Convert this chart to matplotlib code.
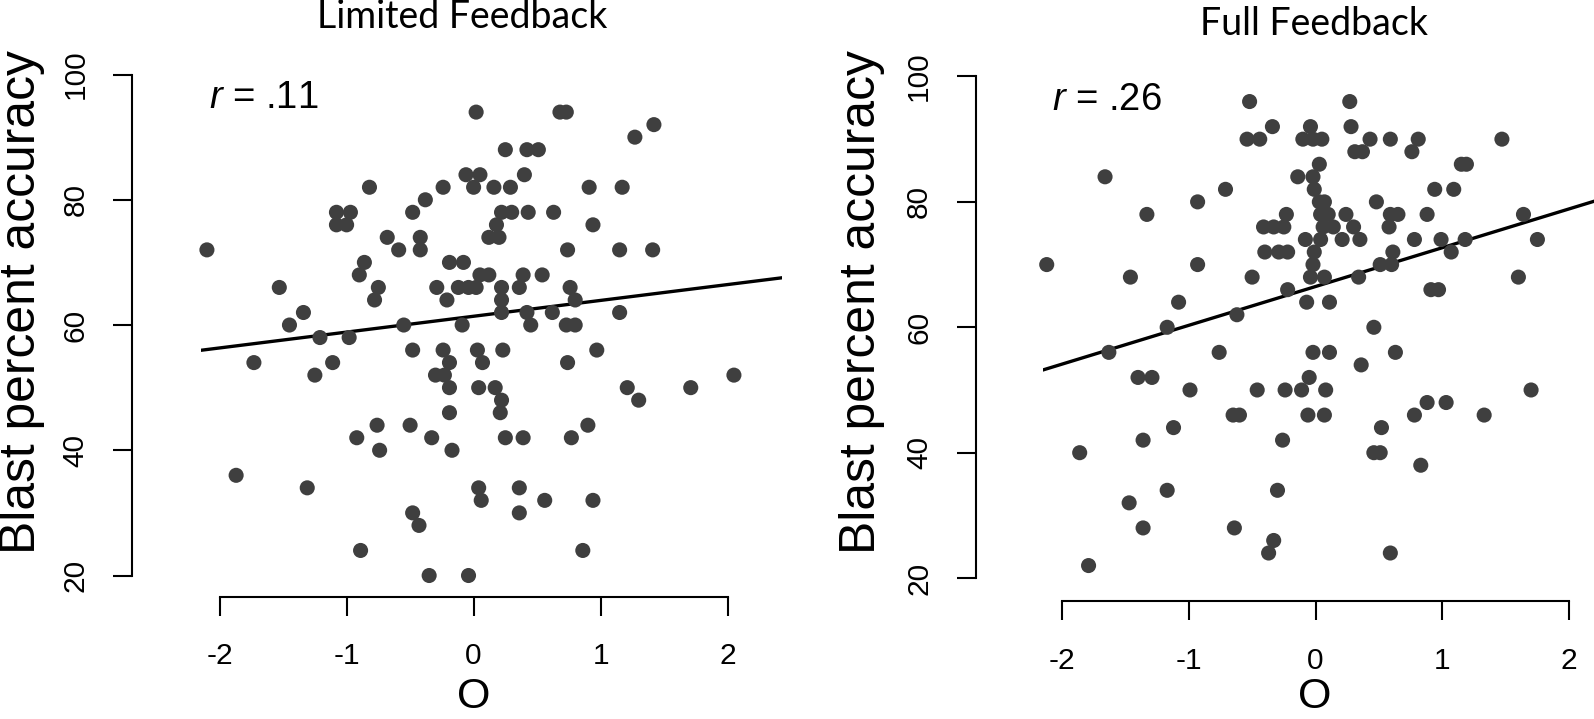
import matplotlib
matplotlib.use("Agg")
import matplotlib.pyplot as plt

plt.rcParams['font.family'] = ['Liberation Sans', 'DejaVu Sans']
plt.rcParams['mathtext.fontset'] = 'custom'
plt.rcParams['mathtext.it'] = 'Liberation Sans:italic'
plt.rcParams['mathtext.rm'] = 'Liberation Sans'

# Limited feedback panel (O score vs blast accuracy)
lim_x = [-2.10, -0.82, -1.08, -0.97, -1.08, -1.00, -0.24, -0.38, -0.48, -0.68, -0.59, -0.42, -0.42,
         -0.86, -0.90, -0.75, -0.78, -1.53, -1.34, -1.45, -0.19, -0.08, -0.29, -0.21, -0.55,
         0.02, 0.68, 0.73, 1.42, 1.27, 0.25, 0.42, 0.51, -0.06, 0.05, 0.40, 0.00, 0.16, 0.29, 0.91,
         1.17, 0.22, 0.30, 0.43, 0.63, 0.18, 0.94, 0.12, 0.20, 0.74, 1.15, 1.41, 0.05, 0.12, 0.39,
         0.54, -0.12, -0.04, 0.02, 0.22, 0.36, 0.76, 0.22, 0.80, 0.22, 0.42, 0.62, 1.15, -0.09, 0.45,
         0.73, 0.80,
         -1.21, -0.98, -1.73, -1.11, -1.25, -0.48, -0.24, -0.19, -0.30, -0.23, -0.19, -0.19, -0.76,
         -0.50, -0.92, -0.74, -0.33, -0.17, -1.87, -1.31, -0.48, -0.43, -0.89, -0.35,
         0.03, 0.23, 0.97, 0.07, 0.74, 0.04, 0.17, 0.22, 0.21, 1.21, 1.30, 1.71, 2.05, 0.90, 0.25,
         0.39, 0.77, 0.04, 0.06, 0.36, 0.36, 0.56, 0.94, 0.86, -0.04]
lim_y = [72, 82, 78, 78, 76, 76, 82, 80, 78, 74, 72, 74, 72,
         70, 68, 66, 64, 66, 62, 60, 70, 70, 66, 64, 60,
         94, 94, 94, 92, 90, 88, 88, 88, 84, 84, 84, 82, 82, 82, 82,
         82, 78, 78, 78, 78, 76, 76, 74, 74, 72, 72, 72, 68, 68, 68,
         68, 66, 66, 66, 66, 66, 66, 64, 64, 62, 62, 62, 62, 60, 60,
         60, 60,
         58, 58, 54, 54, 52, 56, 56, 54, 52, 52, 50, 46, 44,
         44, 42, 40, 42, 40, 36, 34, 30, 28, 24, 20,
         56, 56, 56, 54, 54, 50, 50, 48, 46, 50, 48, 50, 52, 44, 42,
         42, 42, 34, 32, 34, 30, 32, 32, 24, 20]

# Full feedback panel
full_x = [-0.52, 0.27,
          -0.34, -0.04, 0.28,
          -0.54, -0.44, -0.10, -0.02, 0.05, 0.43, 0.59, 0.81, 1.47,
          0.31, 0.37, 0.76,
          0.03, 1.15, 1.19,
          -1.66, -0.14, -0.02,
          -0.71, -0.01, 0.94, 1.09,
          -0.93, 0.03, 0.07, 0.48,
          -1.33, -0.23, 0.04, 0.10, 0.24, 0.59, 0.65, 0.88, 1.64,
          -0.41, -0.33, -0.25, 0.06, 0.14, 0.30, 0.58,
          -0.08, 0.04, 0.21, 0.35, 0.78, 0.99, 1.18, 1.75,
          -0.40, -0.29, -0.22, -0.01, 0.61, 1.07,
          -2.12, -0.93, -0.02, 0.51, 0.60,
          -1.46, -0.50, -0.04, 0.07, 0.34, 1.60,
          -0.22, 0.91, 0.97,
          -1.08, -0.07, 0.11,
          -0.62,
          -1.17, 0.46,
          -1.63, -0.76, -0.02, 0.11, 0.63,
          0.36,
          -1.40, -1.29, -0.05,
          -0.99, -0.46, -0.24, -0.11, 0.08, 1.70,
          0.88, 1.03,
          -0.65, -0.60, -0.06, 0.07, 0.78, 1.33,
          -1.12, 0.52,
          -1.36, -0.26,
          -1.86, 0.46, 0.51,
          0.83,
          -1.17, -0.30,
          -1.47,
          -1.36, -0.64,
          -0.33,
          -0.37, 0.59,
          -1.79]
full_y = [96, 96,
          92, 92, 92,
          90, 90, 90, 90, 90, 90, 90, 90, 90,
          88, 88, 88,
          86, 86, 86,
          84, 84, 84,
          82, 82, 82, 82,
          80, 80, 80, 80,
          78, 78, 78, 78, 78, 78, 78, 78, 78,
          76, 76, 76, 76, 76, 76, 76,
          74, 74, 74, 74, 74, 74, 74, 74,
          72, 72, 72, 72, 72, 72,
          70, 70, 70, 70, 70,
          68, 68, 68, 68, 68, 68,
          66, 66, 66,
          64, 64, 64,
          62,
          60, 60,
          56, 56, 56, 56, 56,
          54,
          52, 52, 52,
          50, 50, 50, 50, 50, 50,
          48, 48,
          46, 46, 46, 46, 46, 46,
          44, 44,
          42, 42,
          40, 40, 40,
          38,
          34, 34,
          32,
          28, 28,
          26,
          24, 24,
          22]

# regression lines (intercept, slope) as drawn in the figure
lim_fit = (61.4, 2.53)
full_fit = (66.5, 6.19)

panel_titles = ['Limited Feedback', 'Full Feedback']
r_labels = ['.11', '.26']
x_ticks = [-2, -1, 0, 1, 2]
y_ticks = [20, 40, 60, 80, 100]

W, H = 1594, 719
fig = plt.figure(figsize=(W / 100, H / 100), dpi=100)

# axes boxes in pixels: left, top, right, bottom
boxes = [(200.7, 54.5, 781.8, 596.8), (1043.3, 56.4, 1624.4, 601.3)]
xlims = [(-2.149, 2.427), (-2.147, 2.436)]
ylims = [(16.6, 103.2), (16.3, 103.2)]
spine_off = [49.2, 48.7]

data = [(lim_x, lim_y, lim_fit), (full_x, full_y, full_fit)]
dot = '#3f3f3f'

for i, (xs, ys, fit) in enumerate(data):
    l, t, r, b = boxes[i]
    ax = fig.add_axes([l / W, 1 - b / H, (r - l) / W, (b - t) / H])
    ax.set_xlim(*xlims[i])
    ax.set_ylim(*ylims[i])
    ax.patch.set_visible(False)

    ax.scatter(xs, ys, s=118, c=dot, edgecolors='none', clip_on=False, zorder=3)
    ax.axline((0, fit[0]), slope=fit[1], color='black', lw=2.4, zorder=2)

    for s in ['top', 'right']:
        ax.spines[s].set_visible(False)
    ax.spines['left'].set_position(('outward', spine_off[i]))
    ax.spines['left'].set_bounds(20, 100)
    ax.spines['bottom'].set_bounds(-2, 2)
    for s in ['left', 'bottom']:
        ax.spines[s].set_linewidth(1.5)

    ax.set_xticks(x_ticks)
    ax.set_xticklabels([str(v) for v in x_ticks])
    ax.set_yticks(y_ticks)
    ax.set_yticklabels([str(v) for v in y_ticks])
    ax.tick_params(length=13.7, width=1.5, labelsize=21.5, direction='out')
    ax.tick_params(axis='x', pad=19)
    ax.tick_params(axis='y', pad=17, labelrotation=90)
    for lab in ax.get_yticklabels():
        lab.set_va('center')

    ax.text(-2.08, 94.6, r'$\mathit{r}$ = ' + r_labels[i], fontsize=27.5,
            ha='left', va='baseline')

# axis labels and panel titles
ylab_x = [22.4, 862]
xlab_x = [473.7, 1314.5]
title_pos = [(462.6, 16.5), (1314.5, 24.4)]
for i in range(2):
    fig.text(ylab_x[i] / W, 1 - 302.5 / H, 'Blast percent accuracy', rotation=90,
             ha='center', va='center', fontsize=35.8)
    fig.text(xlab_x[i] / W, 1 - 717.5 / H, 'O', ha='center', va='bottom', fontsize=31)
    fig.text(title_pos[i][0] / W, 1 - title_pos[i][1] / H, panel_titles[i],
             ha='center', va='center', fontsize=27, family=['Lato', 'DejaVu Sans'])

fig.savefig('out.png', dpi=100)
